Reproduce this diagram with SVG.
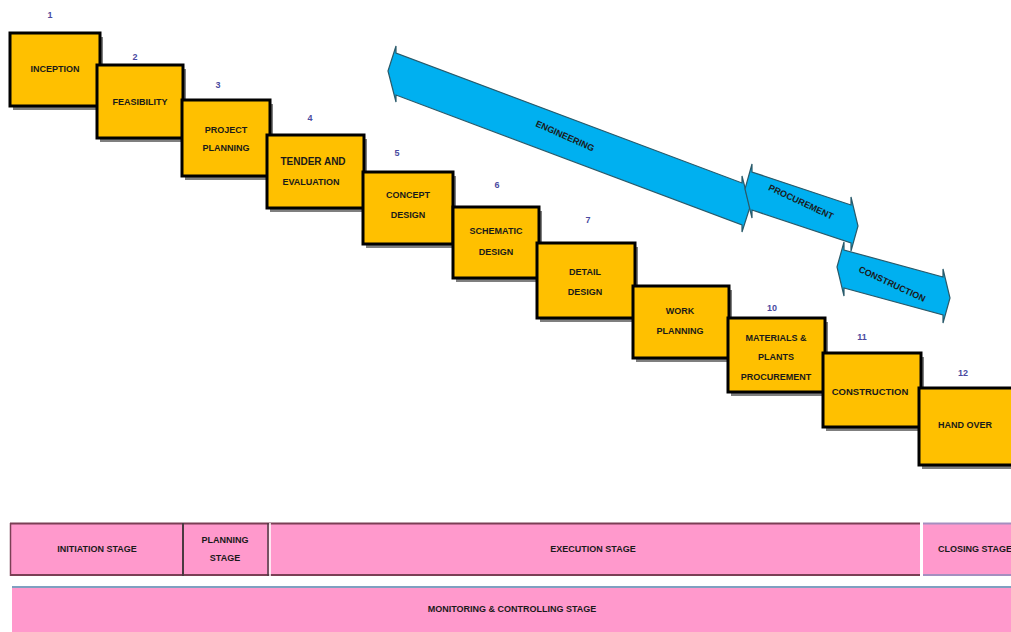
<svg xmlns="http://www.w3.org/2000/svg" width="1011" height="632" viewBox="0 0 1011 632">
<style>
.box{fill:#FFC000;stroke:#000;stroke-width:3}
.sh{fill:#7f7f7f}
.t{font-family:"Liberation Sans",Arial,sans-serif;font-size:9px;font-weight:bold;fill:#1a1a1a;text-anchor:middle;dominant-baseline:central}
.n{font-family:"Liberation Sans",Arial,sans-serif;font-size:9px;font-weight:bold;fill:#4a4aa0;text-anchor:middle;dominant-baseline:central}
.arr{fill:#00B0F0;stroke:#2a5a6a;stroke-width:1.2}
.stage{fill:#FF99CC}
</style>
<rect width="1011" height="632" fill="#fff"/>
<g id="connectors">
<polygon class="arr" points="388,71 396,46 396,53 742,183 742,176 750,207 742,232 742,225 396,95 396,102"/>
<polygon class="arr" points="745,189 752,164 752,172 851,205 851,197 858,226 851,251 851,243 752,210 752,218"/>
<polygon class="arr" points="837,267 844,242 844,250 943,277 943,269 950,298 943,323 943,315 844,288 844,296"/>
<text class="t" transform="translate(565,136) rotate(24)">ENGINEERING</text>
<text class="t" transform="translate(801,202) rotate(25)">PROCUREMENT</text>
<text class="t" transform="translate(892,284) rotate(25)">CONSTRUCTION</text>
</g>
<g id="n1"><rect class="sh" x="13" y="37" width="90" height="73"/><rect class="box" x="10" y="33" width="90" height="73"/><text class="t" x="55" y="69">INCEPTION</text><text class="n" x="50" y="15">1</text></g>
<g id="n2"><rect class="sh" x="100" y="69" width="86" height="73"/><rect class="box" x="97" y="65" width="86" height="73"/><text class="t" x="140" y="102">FEASIBILITY</text><text class="n" x="135" y="57">2</text></g>
<g id="n3"><rect class="sh" x="185" y="104" width="88" height="76"/><rect class="box" x="182" y="100" width="88" height="76"/><text class="t" x="226" y="130">PROJECT</text><text class="t" x="226" y="148">PLANNING</text><text class="n" x="218" y="85">3</text></g>
<g id="n4"><rect class="sh" x="270" y="139" width="97" height="73"/><rect class="box" x="267" y="135" width="97" height="73"/><text class="t" x="313" y="161" style="font-size:10px">TENDER AND</text><text class="t" x="311" y="182">EVALUATION</text><text class="n" x="310" y="118">4</text></g>
<g id="n5"><rect class="sh" x="366" y="176" width="90" height="72"/><rect class="box" x="363" y="172" width="90" height="72"/><text class="t" x="408" y="195">CONCEPT</text><text class="t" x="408" y="215">DESIGN</text><text class="n" x="397" y="153">5</text></g>
<g id="n6"><rect class="sh" x="456" y="211" width="86" height="71"/><rect class="box" x="453" y="207" width="86" height="71"/><text class="t" x="496" y="231">SCHEMATIC</text><text class="t" x="496" y="252">DESIGN</text><text class="n" x="497" y="185">6</text></g>
<g id="n7"><rect class="sh" x="540" y="247" width="98" height="75"/><rect class="box" x="537" y="243" width="98" height="75"/><text class="t" x="585" y="272">DETAIL</text><text class="t" x="585" y="292">DESIGN</text><text class="n" x="588" y="220">7</text></g>
<g id="n8"><rect class="sh" x="636" y="290" width="96" height="72"/><rect class="box" x="633" y="286" width="96" height="72"/><text class="t" x="680" y="311">WORK</text><text class="t" x="680" y="331">PLANNING</text></g>
<g id="n9"><rect class="sh" x="731" y="322" width="97" height="74"/><rect class="box" x="728" y="318" width="97" height="74"/><text class="t" x="776" y="338">MATERIALS &amp;</text><text class="t" x="776" y="357">PLANTS</text><text class="t" x="776" y="377">PROCUREMENT</text><text class="n" x="772" y="308">10</text></g>
<g id="n10"><rect class="sh" x="826" y="357" width="98" height="74"/><rect class="box" x="823" y="353" width="98" height="74"/><text class="t" x="870" y="391" style="font-size:9.5px">CONSTRUCTION</text><text class="n" x="862" y="337">11</text></g>
<g id="n11"><rect class="sh" x="922" y="392" width="95" height="77"/><rect class="box" x="919" y="388" width="95" height="77"/><text class="t" x="965" y="425">HAND OVER</text><text class="n" x="963" y="373">12</text></g>
<g id="stages">
<rect class="stage" x="10" y="523" width="910" height="52"/>
<line x1="10" y1="523.5" x2="920" y2="523.5" stroke="#7B3F55" stroke-width="2"/>
<line x1="10" y1="575" x2="920" y2="575" stroke="#7B3F55" stroke-width="2"/>
<line x1="10.5" y1="523" x2="10.5" y2="576" stroke="#7B3F55" stroke-width="1.5"/>
<line x1="183" y1="523" x2="183" y2="576" stroke="#4a3a40" stroke-width="2"/>
<line x1="268" y1="523" x2="268" y2="576" stroke="#4a3a40" stroke-width="1.5"/>
<line x1="270" y1="523" x2="270" y2="576" stroke="#fff" stroke-width="1.5"/>
<rect class="stage" x="923" y="523" width="88" height="52"/>
<line x1="923" y1="523.5" x2="1011" y2="523.5" stroke="#A58FC0" stroke-width="2"/>
<line x1="923" y1="575" x2="1011" y2="575" stroke="#A58FC0" stroke-width="2"/>
<text class="t" x="97" y="549">INITIATION STAGE</text>
<text class="t" x="225" y="540">PLANNING</text>
<text class="t" x="225" y="558">STAGE</text>
<text class="t" x="593" y="549">EXECUTION STAGE</text>
<text class="t" x="975" y="549">CLOSING STAGE</text>
<rect class="stage" x="12" y="586" width="999" height="46"/>
<line x1="12" y1="587" x2="1011" y2="587" stroke="#7F9FC0" stroke-width="2"/>
<text class="t" x="512" y="609">MONITORING &amp; CONTROLLING STAGE</text>
</g>
</svg>
